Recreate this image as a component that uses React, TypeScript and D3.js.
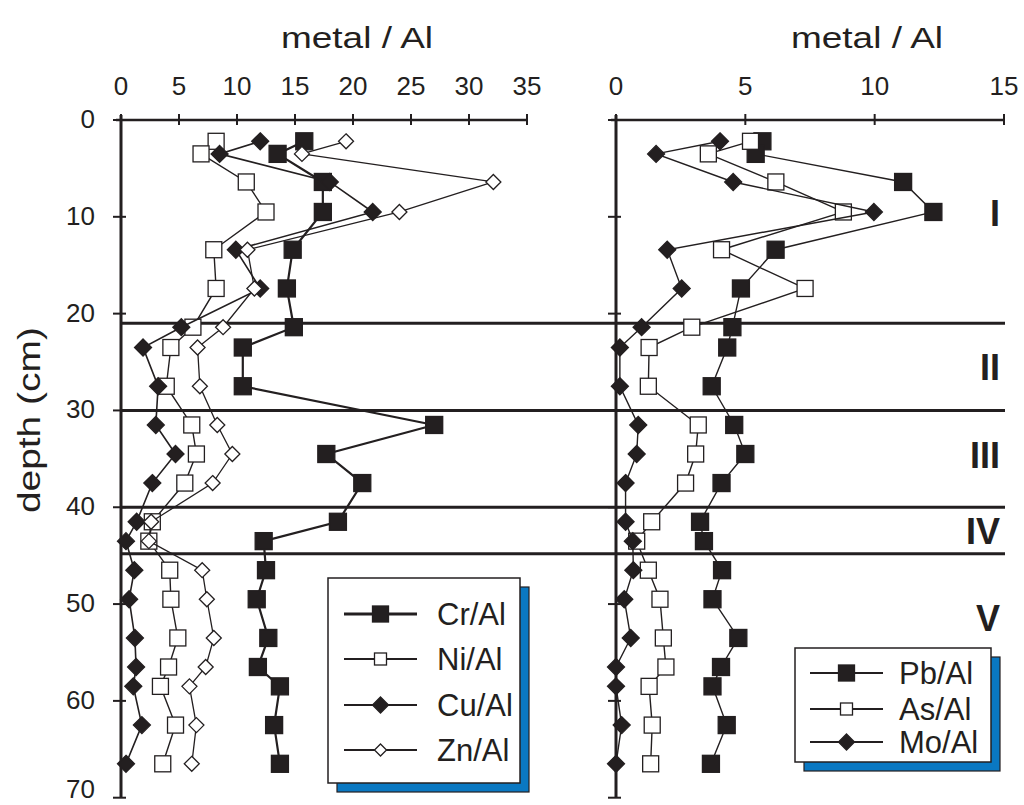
import React from 'react';
import * as d3 from 'd3';

// sample depths (cm), shared by every series
const depths = [2.2, 3.5, 6.4, 9.5, 13.4, 17.4, 21.4, 23.5, 27.5, 31.5, 34.5, 37.5, 41.5, 43.5, 46.5, 49.5, 53.5, 56.5, 58.5, 62.5, 66.5];

// left panel
const crAl = [15.8, 13.5, 17.4, 17.4, 14.8, 14.3, 14.9, 10.5, 10.5, 27.0, 17.7, 20.8, 18.7, 12.3, 12.5, 11.7, 12.7, 11.8, 13.7, 13.2, 13.7];
const niAl = [8.2, 6.9, 10.8, 12.5, 8.0, 8.2, 6.2, 4.3, 3.9, 6.1, 6.5, 5.5, 2.7, 2.4, 4.2, 4.3, 4.9, 4.1, 3.4, 4.7, 3.6];
const cuAl = [12.0, 8.5, 18.0, 21.7, 9.9, 12.0, 5.2, 1.9, 3.2, 3.0, 4.7, 2.7, 1.35, 0.43, 1.15, 0.7, 1.2, 1.3, 1.06, 1.8, 0.43];
const znAl = [19.4, 15.6, 32.1, 24.0, 10.9, 11.5, 8.8, 6.6, 6.8, 8.3, 9.6, 7.9, 2.6, 2.4, 7.0, 7.4, 8.0, 7.3, 5.9, 6.5, 6.1];

// right panel
const pbAl = [5.66, 5.4, 11.1, 12.27, 6.17, 4.83, 4.5, 4.3, 3.7, 4.57, 5.0, 4.08, 3.25, 3.4, 4.1, 3.73, 4.73, 4.06, 3.73, 4.28, 3.67];
const asAl = [5.2, 3.57, 6.18, 8.79, 4.08, 7.31, 2.93, 1.28, 1.25, 3.18, 3.08, 2.69, 1.38, 0.8, 1.25, 1.7, 1.83, 1.93, 1.28, 1.4, 1.34];
const moAl = [4.02, 1.55, 4.53, 9.97, 1.98, 2.54, 0.99, 0.15, 0.15, 0.86, 0.8, 0.37, 0.37, 0.65, 0.67, 0.32, 0.57, 0, 0, 0.22, 0];

// zone boundaries and labels
const zoneBounds = [21, 30, 40, 44.8];
const zoneNames = ['I', 'II', 'III', 'IV', 'V'];
const zoneLabelDepths = [11.0, 26.9, 35.9, 43.8, 52.8];

const leftTicks = [0, 5, 10, 15, 20, 25, 30, 35];
const rightTicks = [0, 5, 10, 15];
const depthTicks = [0, 10, 20, 30, 40, 50, 60, 70];

const INK = '#231f20';
const FONT = 'Arial, "Liberation Sans", sans-serif';

type Marker = 'square' | 'diamond';

const MarkerShape = ({ x, y, kind, filled, size }: { x: number; y: number; kind: Marker; filled: boolean; size: number }) => {
  const h = size / 2;
  if (kind === 'square') {
    return <rect x={x - h} y={y - h} width={size} height={size} fill={filled ? INK : '#fff'} stroke={INK} strokeWidth={1.3} />;
  }
  const pts = `${x},${y - h} ${x + h},${y} ${x},${y + h} ${x - h},${y}`;
  return <polygon points={pts} fill={filled ? INK : '#fff'} stroke={INK} strokeWidth={1.3} />;
};

const App = () => {
  const width = 1024;
  const height = 805;

  const y = d3.scaleLinear().domain([0, 70]).range([120, 797.7]);
  const xL = d3.scaleLinear().domain([0, 35]).range([121, 527]);
  const xR = d3.scaleLinear().domain([0, 15]).range([616, 1004]);

  const leftSeries = [
    { name: 'Cr/Al', values: crAl, kind: 'square' as Marker, filled: true, lw: 2.2, size: 17 },
    { name: 'Ni/Al', values: niAl, kind: 'square' as Marker, filled: false, lw: 1.4, size: 16 },
    { name: 'Cu/Al', values: cuAl, kind: 'diamond' as Marker, filled: true, lw: 1.6, size: 17 },
    { name: 'Zn/Al', values: znAl, kind: 'diamond' as Marker, filled: false, lw: 1.3, size: 15 },
  ];
  const rightSeries = [
    { name: 'Pb/Al', values: pbAl, kind: 'square' as Marker, filled: true, lw: 1.4, size: 17 },
    { name: 'As/Al', values: asAl, kind: 'square' as Marker, filled: false, lw: 1.4, size: 16 },
    { name: 'Mo/Al', values: moAl, kind: 'diamond' as Marker, filled: true, lw: 1.4, size: 17 },
  ];

  const drawSeries = (series: typeof leftSeries, x: d3.ScaleLinear<number, number>) =>
    series.map(s => {
      const pts = s.values.map((v, i) => [x(v), y(depths[i])] as [number, number]);
      const line = d3.line();
      return (
        <g key={s.name}>
          <path d={line(pts) || ''} fill="none" stroke={INK} strokeWidth={s.lw} />
          {pts.map((p, i) => (
            <MarkerShape key={i} x={p[0]} y={p[1]} kind={s.kind} filled={s.filled} size={s.size} />
          ))}
        </g>
      );
    });

  const axes = (x: d3.ScaleLinear<number, number>, ticks: number[], withLabels: boolean) => {
    const x0 = x(0);
    return (
      <g>
        {/* top axis */}
        <line x1={x0 - 5} x2={x(ticks[ticks.length - 1])} y1={y(0)} y2={y(0)} stroke={INK} strokeWidth={2.5} />
        {ticks.map(t => (
          <g key={'t' + t}>
            <line x1={x(t)} x2={x(t)} y1={y(0) - 6} y2={y(0) + 5} stroke={INK} strokeWidth={2} />
            <text x={x(t)} y={95} textAnchor="middle" fontSize={26} fill={INK} fontFamily={FONT}>
              {t}
            </text>
          </g>
        ))}
        {/* depth axis */}
        <line x1={x0} x2={x0} y1={y(0) - 5} y2={y(70)} stroke={INK} strokeWidth={3} />
        {depthTicks.map(d => (
          <g key={'d' + d}>
            <line x1={x0 - 8} x2={x0 + 5} y1={y(d)} y2={y(d)} stroke={INK} strokeWidth={2} />
            {withLabels && (
              <text x={x0 - 26} y={Math.min(y(d) + 8, 798)} textAnchor="end" fontSize={26} fill={INK} fontFamily={FONT}>
                {d}
              </text>
            )}
          </g>
        ))}
      </g>
    );
  };

  const legend = (
    series: typeof leftSeries,
    box: { x: number; y: number; w: number; h: number },
    lineX: [number, number],
    rows: number[],
    textX: number,
    thickFirst: boolean
  ) => (
    <g>
      <rect x={box.x + 9} y={box.y + 9} width={box.w} height={box.h} fill="#0a78c2" stroke={INK} strokeWidth={1.2} />
      <rect x={box.x} y={box.y} width={box.w} height={box.h} fill="#fff" stroke={INK} strokeWidth={1.5} />
      {series.map((s, i) => {
        const cx = (lineX[0] + lineX[1]) / 2;
        return (
          <g key={s.name}>
            <line x1={lineX[0]} x2={lineX[1]} y1={rows[i]} y2={rows[i]} stroke={INK} strokeWidth={thickFirst && i === 0 ? 2.8 : 2} />
            <MarkerShape x={cx} y={rows[i]} kind={s.kind} filled={s.filled} size={s.filled ? 16 : 12} />
            <text x={textX} y={rows[i]} dy="0.36em" fontSize={31} fill={INK} fontFamily={FONT}>
              {s.name}
            </text>
          </g>
        );
      })}
    </g>
  );

  return (
    <svg width={width} height={height} style={{ position: 'absolute', left: 0, top: 0, background: '#fff' }}>
      <rect width={width} height={height} fill="#fff" />
      {/* titles */}
      <text x={357} y={48} textAnchor="middle" fontSize={30} fill={INK} fontFamily={FONT} textLength={152} lengthAdjust="spacingAndGlyphs">
        metal / Al
      </text>
      <text x={867} y={48} textAnchor="middle" fontSize={30} fill={INK} fontFamily={FONT} textLength={152} lengthAdjust="spacingAndGlyphs">
        metal / Al
      </text>
      <text
        transform={`translate(40,${y(31)}) rotate(-90)`}
        textAnchor="middle"
        fontSize={32}
        fill={INK}
        fontFamily={FONT}
        textLength={186}
        lengthAdjust="spacingAndGlyphs"
      >
        depth (cm)
      </text>

      {axes(xL, leftTicks, true)}
      {axes(xR, rightTicks, false)}

      {/* zone boundaries across both panels */}
      {zoneBounds.map(b => (
        <line key={b} x1={xL(0)} x2={xR(15) + 1} y1={y(b)} y2={y(b)} stroke={INK} strokeWidth={3} />
      ))}
      {zoneNames.map((n, i) => (
        <text key={n} x={1000} y={y(zoneLabelDepths[i])} textAnchor="end" fontSize={36} fontWeight="bold" fill={INK} fontFamily={FONT}>
          {n}
        </text>
      ))}

      {drawSeries(leftSeries, xL)}
      {drawSeries(rightSeries, xR)}

      {legend(leftSeries, { x: 328, y: 578, w: 192, h: 205 }, [344, 417], [614, 659, 705, 750], 437, true)}
      {legend(rightSeries, { x: 795, y: 648, w: 196, h: 114 }, [810, 883], [673, 709, 742], 899, false)}
    </svg>
  );
};

export default App;
